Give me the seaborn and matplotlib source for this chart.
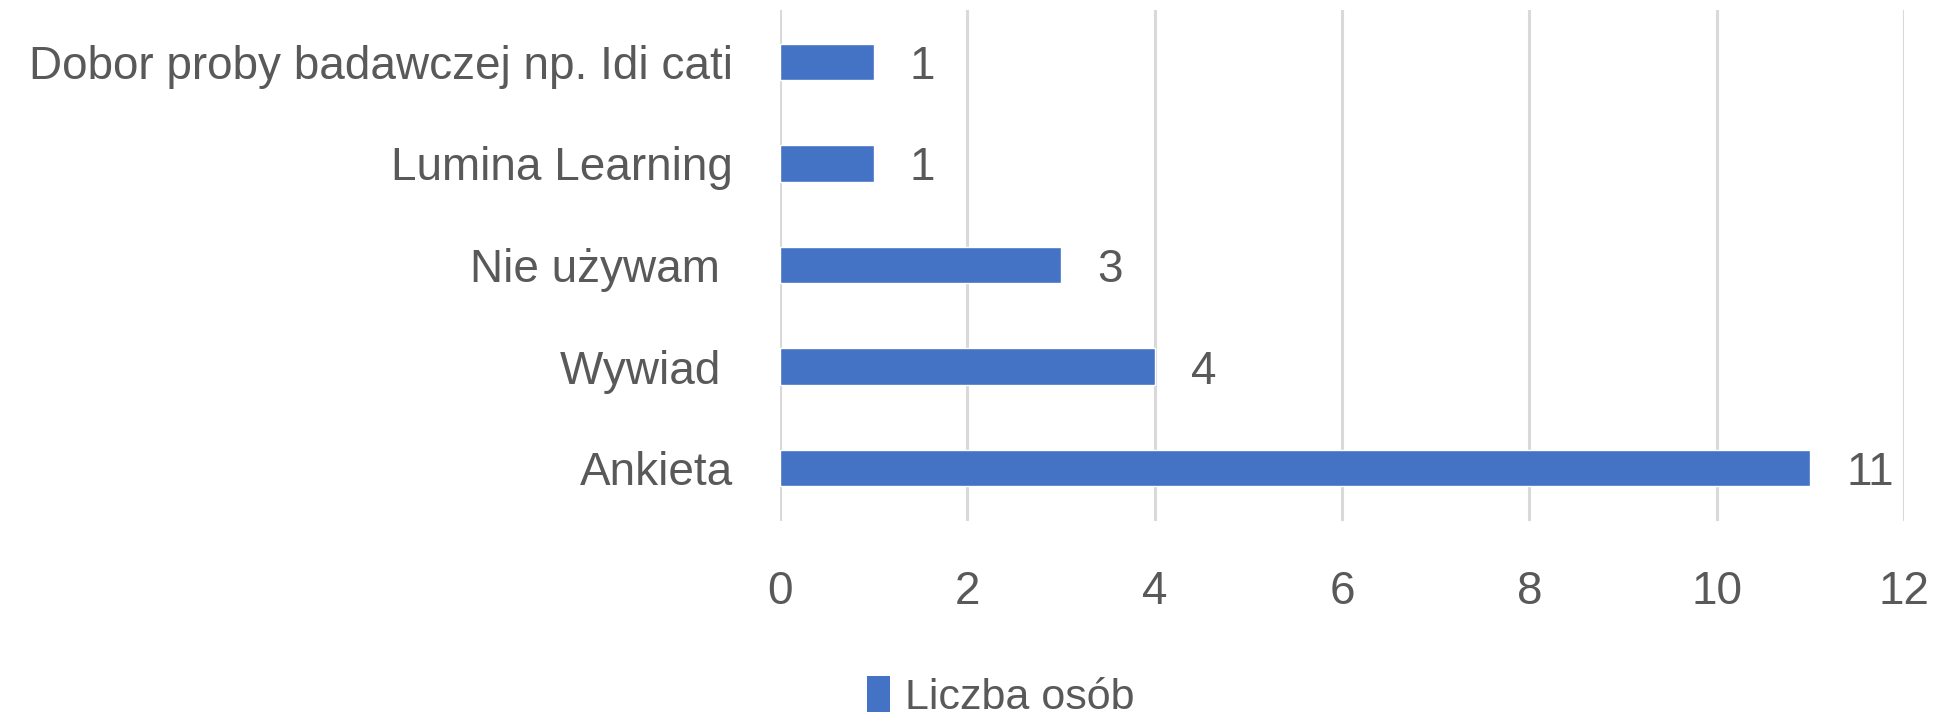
import matplotlib
matplotlib.use("Agg")
import matplotlib.pyplot as plt
import seaborn as sns
import pandas as pd
from matplotlib.patches import Patch

categories = ["Dobor proby badawczej np. Idi cati", "Lumina Learning", "Nie używam ", "Wywiad ", "Ankieta"]
values = [1, 1, 3, 4, 11]
series_name = "Liczba osób"
x_ticks = [0, 2, 4, 6, 8, 10, 12]

sns.set_theme(style="white")
plt.rcParams["font.family"] = ["Liberation Sans", "DejaVu Sans"]

BAR = "#4472C4"
TXT = "#595959"
GRID = "#D9D9D9"
FS = 33

df = pd.DataFrame({"cat": categories, "val": values})

fig = plt.figure(figsize=(19.47, 7.15), dpi=100)
ax = fig.add_axes([780 / 1947, 1 - 521 / 715, (1904 - 780) / 1947, 511 / 715])

sns.barplot(data=df, y="cat", x="val", orient="h", color=BAR, width=0.355,
            saturation=1, ax=ax, order=categories)

ax.set_xlim(0, 12)
ax.set_ylim(4.522, -0.512)
ax.set_xticks(x_ticks)
ax.set_xticklabels([str(t) for t in x_ticks])
ax.set_xlabel("")
ax.set_ylabel("")
for s in ax.spines.values():
    s.set_visible(False)
ax.grid(axis="x", color=GRID, linewidth=2.2)
ax.grid(axis="y", visible=False)
ax.set_axisbelow(True)
ax.tick_params(axis="x", length=0, pad=35, labelsize=FS, labelcolor=TXT)
ax.tick_params(axis="y", length=0, pad=34, labelsize=FS, labelcolor=TXT)
for t in ax.get_yticklabels():
    t.set_va("center_baseline")

texts = ax.bar_label(ax.containers[0], labels=[str(v) for v in values], padding=26,
                     fontsize=FS, color=TXT)
for t in texts:
    t.set_va("center_baseline")

handle = Patch(facecolor=BAR, edgecolor="none")
fig.legend([handle], [series_name], loc="center", bbox_to_anchor=(0.514, 0.025),
           frameon=False, fontsize=31, labelcolor=TXT, handlelength=0.55,
           handleheight=0.9, handletextpad=0.35)

fig.savefig("out.png", dpi=100, facecolor="white")
